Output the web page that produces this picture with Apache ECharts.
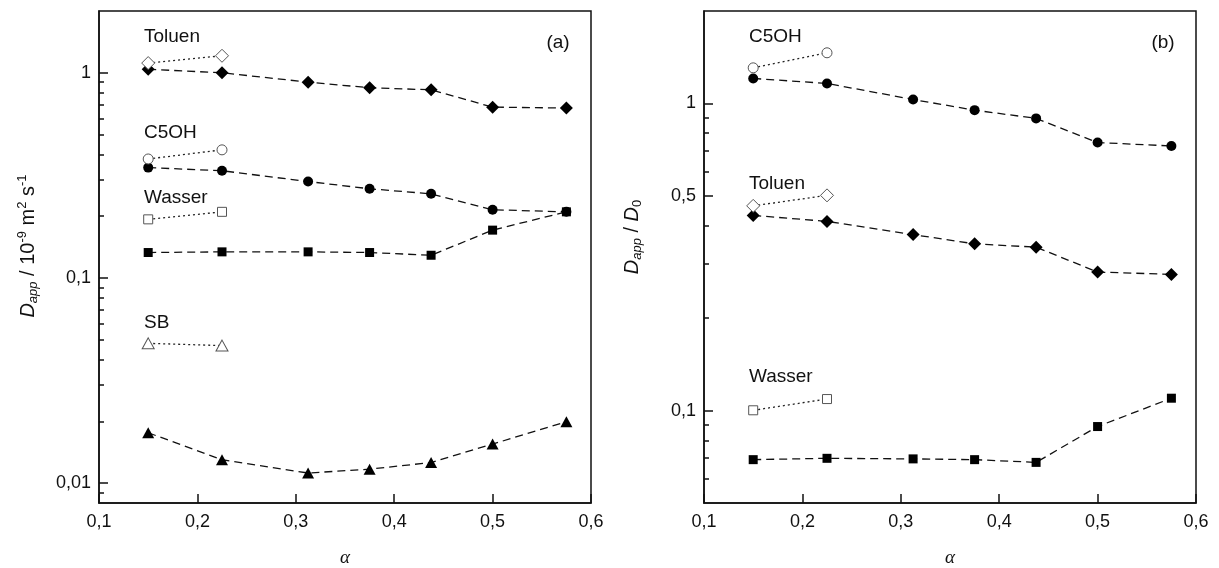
<!DOCTYPE html>
<html>
<head>
<meta charset="utf-8">
<script src="https://cdn.jsdelivr.net/npm/echarts@6/dist/echarts.min.js"></script>
<style>
html,body{margin:0;padding:0;background:#fff;}
#chart{width:1219px;height:568px;}
</style>
</head>
<body>
<div id="chart"></div>
<script>
// ---- data ----
const alpha = [0.15, 0.225, 0.3125, 0.375, 0.4375, 0.5, 0.575];
const alphaOpen = [0.15, 0.225];

// panel (a): D_app / 10^-9 m^2 s^-1
const aToluen = [1.04, 1.0, 0.90, 0.845, 0.826, 0.68, 0.673];
const aToluenOpen = [1.115, 1.21];
const aC5OH = [0.345, 0.333, 0.295, 0.272, 0.257, 0.215, 0.21];
const aC5OHOpen = [0.38, 0.421];
const aWasser = [0.133, 0.134, 0.134, 0.133, 0.129, 0.171, 0.21];
const aWasserOpen = [0.193, 0.21];
const aSB = [0.0176, 0.0130, 0.0112, 0.0117, 0.0126, 0.0155, 0.0199];
const aSBOpen = [0.048, 0.0468];

// panel (b): D_app / D_0
const bC5OH = [1.206, 1.162, 1.03, 0.951, 0.894, 0.746, 0.727];
const bC5OHOpen = [1.306, 1.462];
const bToluen = [0.432, 0.413, 0.374, 0.349, 0.3405, 0.2825, 0.2776];
const bToluenOpen = [0.464, 0.502];
const bWasser = [0.0692, 0.0699, 0.0696, 0.0692, 0.0678, 0.0887, 0.1097];
const bWasserOpen = [0.1002, 0.109];

// tick values
const xTicks = [0.1, 0.2, 0.3, 0.4, 0.5, 0.6];
const aMajor = [0.01, 0.1, 1];
const aMinor = [0.009, 0.02, 0.03, 0.04, 0.05, 0.06, 0.07, 0.08, 0.09, 0.2, 0.3, 0.4, 0.5, 0.6, 0.7, 0.8, 0.9];
const bMajor = [0.1, 0.5, 1];
const bMinor = [0.06, 0.07, 0.08, 0.09, 0.2, 0.3, 0.4, 0.6, 0.7, 0.8, 0.9];

// labels
const labelsA = [['Toluen', 144, 37], ['C5OH', 144, 133], ['Wasser', 144, 198], ['SB', 144, 323]];
const labelsB = [['C5OH', 749, 37], ['Toluen', 749, 184], ['Wasser', 749, 377]];

// ---- chart ----
const INK = '#111';
const SANS = "'Liberation Sans', Arial, sans-serif";
const fmt = v => String(parseFloat(Number(v).toPrecision(6))).replace('.', ',');
const zip = (xs, ys) => xs.map((x, i) => [x, ys[i]]);

function filledSeries(xi, yi, ys, symbol, size) {
  return {
    type: 'line', xAxisIndex: xi, yAxisIndex: yi, data: zip(alpha, ys),
    symbol: symbol, symbolSize: size, showSymbol: true,
    lineStyle: {color: INK, width: 1.3, type: [8, 5]},
    itemStyle: {color: '#000', borderWidth: 0},
    z: 3, animation: false
  };
}
function openSeries(xi, yi, ys, symbol, size) {
  return {
    type: 'line', xAxisIndex: xi, yAxisIndex: yi, data: zip(alphaOpen, ys),
    symbol: symbol, symbolSize: size, showSymbol: true,
    lineStyle: {color: '#222', width: 1.3, type: [2, 3]},
    itemStyle: {color: '#fff', borderColor: '#555', borderWidth: 1},
    z: 3, animation: false
  };
}
function xAxis(gi) {
  return {
    type: 'value', gridIndex: gi, min: 0.1, max: 0.6, interval: 0.1,
    axisLine: {show: true, onZero: false, lineStyle: {color: INK, width: 1.5}},
    axisTick: {show: true, inside: true, length: 9, lineStyle: {color: INK, width: 1.5}},
    axisLabel: {formatter: fmt, fontSize: 18, color: INK, fontFamily: SANS, margin: 10},
    splitLine: {show: false},
    name: 'α', nameLocation: 'middle', nameGap: 45,
    nameTextStyle: {fontFamily: "'Liberation Serif', 'DejaVu Serif', serif", fontStyle: 'italic', fontSize: 19, color: INK}
  };
}
function yMajor(gi, min, max, ticks) {
  return {
    type: 'log', logBase: 10, gridIndex: gi, min: min, max: max, position: 'left',
    axisLine: {show: true, onZero: false, lineStyle: {color: INK, width: 1.5}},
    axisTick: {show: true, inside: true, length: 9, customValues: ticks, lineStyle: {color: INK, width: 1.5}},
    axisLabel: {customValues: ticks, formatter: fmt, fontSize: 18, color: INK, fontFamily: SANS, margin: 8},
    splitLine: {show: false}, minorTick: {show: false}
  };
}
function yMinor(gi, min, max, ticks) {
  return {
    type: 'log', logBase: 10, gridIndex: gi, min: min, max: max, position: 'left',
    axisLine: {show: false},
    axisTick: {show: true, inside: true, length: 5, customValues: ticks, lineStyle: {color: INK, width: 1.5}},
    axisLabel: {show: false},
    splitLine: {show: false}
  };
}
function textEl(t, x, y, align) {
  return {type: 'text', x: x, y: y, z: 10,
    style: {text: t, fill: INK, font: "19px " + SANS, align: align || 'left', verticalAlign: 'middle'}};
}

const chart = echarts.init(document.getElementById('chart'), null, {renderer: 'canvas'});

const richSans = {
  i: {fontFamily: SANS, fontStyle: 'italic', fontSize: 20, color: INK},
  n: {fontFamily: SANS, fontSize: 20, color: INK},
  sub: {fontFamily: SANS, fontStyle: 'italic', fontSize: 13, color: INK, padding: [10, 0, 0, 0]},
  subn: {fontFamily: SANS, fontSize: 13, color: INK, padding: [10, 0, 0, 0]},
  sup: {fontFamily: SANS, fontSize: 13, color: INK, padding: [0, 0, 11, 0]}
};

const graphics = [];
labelsA.forEach(l => graphics.push(textEl(l[0], l[1], l[2])));
labelsB.forEach(l => graphics.push(textEl(l[0], l[1], l[2])));
graphics.push(textEl('(a)', 558, 43, 'center'));
graphics.push(textEl('(b)', 1163, 43, 'center'));
graphics.push({
  type: 'text', x: 28, y: 246, rotation: Math.PI / 2, z: 10,
  style: {text: '{i|D}{sub|app}{n| / 10}{sup|-9}{n| m}{sup|2}{n| s}{sup|-1}', rich: richSans,
    align: 'center', verticalAlign: 'middle', fill: INK}
});
graphics.push({
  type: 'text', x: 632, y: 237, rotation: Math.PI / 2, z: 10,
  style: {text: '{i|D}{sub|app}{n| / }{i|D}{subn|0}', rich: richSans,
    align: 'center', verticalAlign: 'middle', fill: INK}
});

chart.setOption({
  animation: false,
  backgroundColor: '#fff',
  grid: [
    {left: 99, top: 11, width: 492, height: 492, outerBoundsMode: 'none', containLabel: false,
     show: true, borderColor: INK, borderWidth: 1.5, backgroundColor: 'transparent'},
    {left: 704, top: 11, width: 492, height: 492, outerBoundsMode: 'none', containLabel: false,
     show: true, borderColor: INK, borderWidth: 1.5, backgroundColor: 'transparent'}
  ],
  xAxis: [xAxis(0), xAxis(1)],
  yAxis: [
    yMajor(0, 0.008, 2, aMajor), yMinor(0, 0.008, 2, aMinor),
    yMajor(1, 0.05, 2, bMajor), yMinor(1, 0.05, 2, bMinor)
  ],
  series: [
    filledSeries(0, 0, aToluen, 'diamond', 13),
    openSeries(0, 0, aToluenOpen, 'diamond', 13),
    filledSeries(0, 0, aC5OH, 'circle', 10),
    openSeries(0, 0, aC5OHOpen, 'circle', 10),
    filledSeries(0, 0, aWasser, 'rect', 9),
    openSeries(0, 0, aWasserOpen, 'rect', 9),
    filledSeries(0, 0, aSB, 'triangle', [12, 11]),
    openSeries(0, 0, aSBOpen, 'triangle', [12, 11]),
    filledSeries(1, 2, bC5OH, 'circle', 10),
    openSeries(1, 2, bC5OHOpen, 'circle', 10),
    filledSeries(1, 2, bToluen, 'diamond', 13),
    openSeries(1, 2, bToluenOpen, 'diamond', 13),
    filledSeries(1, 2, bWasser, 'rect', 9),
    openSeries(1, 2, bWasserOpen, 'rect', 9)
  ],
  graphic: graphics
});
</script>
</body>
</html>
